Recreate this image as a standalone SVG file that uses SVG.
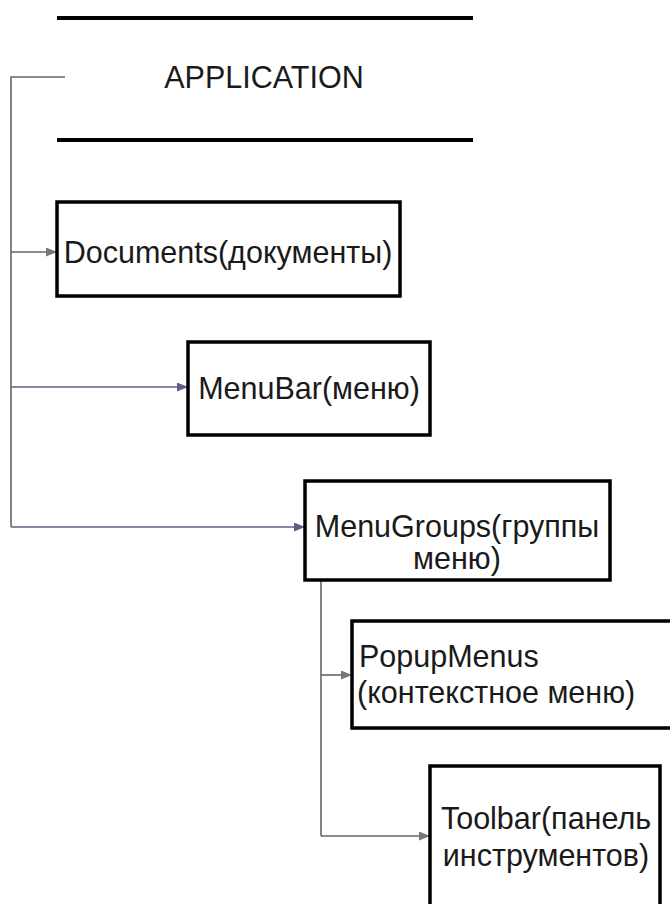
<svg xmlns="http://www.w3.org/2000/svg" width="670" height="904" viewBox="0 0 670 904">
<defs>
<style>
.box{fill:#fff;stroke:#000;stroke-width:3.5}
.t{font-family:"Liberation Sans",Arial,sans-serif;font-size:30.5px;fill:#1a1a1a}
.c{fill:none;stroke:#666;stroke-width:1.6}
.cb{fill:none;stroke:#5c6088;stroke-width:1.6}
</style>
<marker id="ah" markerWidth="11" markerHeight="9" refX="10" refY="4.5" orient="auto" markerUnits="userSpaceOnUse">
<path d="M0,0 L11,4.5 L0,9 Z" fill="#777"/>
</marker>
<marker id="ahb" markerWidth="11" markerHeight="9" refX="10" refY="4.5" orient="auto" markerUnits="userSpaceOnUse">
<path d="M0,0 L11,4.5 L0,9 Z" fill="#5c6088"/>
</marker>
</defs>
<rect width="670" height="904" fill="#fff"/>
<g id="application">
<line x1="57" y1="18" x2="473" y2="18" stroke="#000" stroke-width="4"/>
<line x1="57" y1="140" x2="473" y2="140" stroke="#000" stroke-width="4"/>
<text class="t" x="264" y="88" text-anchor="middle">APPLICATION</text>
</g>
<g id="connectors">
<path class="c" d="M65,77 H11 V527"/>
<path class="c" d="M11,252 H56" marker-end="url(#ah)"/>
<path class="cb" d="M11,387 H187" marker-end="url(#ahb)"/>
<path class="cb" d="M11,527 H304" marker-end="url(#ahb)"/>
<path class="c" d="M321,580 V836"/>
<path class="c" d="M321,675 H351" marker-end="url(#ah)"/>
<path class="c" d="M321,836 H429" marker-end="url(#ah)"/>
</g>
<g id="documents">
<rect class="box" x="57" y="202" width="343" height="94"/>
<text class="t" x="228" y="263" text-anchor="middle">Documents(документы)</text>
</g>
<g id="menubar">
<rect class="box" x="188" y="342" width="242" height="93"/>
<text class="t" x="309" y="399" text-anchor="middle">MenuBar(меню)</text>
</g>
<g id="menugroups">
<rect class="box" x="305" y="481" width="305" height="99"/>
<text class="t" x="457" y="537" text-anchor="middle">MenuGroups(группы</text>
<text class="t" x="457" y="569" text-anchor="middle">меню)</text>
</g>
<g id="popupmenus">
<rect class="box" x="352" y="621" width="330" height="107"/>
<text class="t" x="359" y="667">PopupMenus</text>
<text class="t" x="357" y="703">(контекстное меню)</text>
</g>
<g id="toolbar">
<rect class="box" x="430" y="766" width="230" height="150"/>
<text class="t" x="546" y="829" text-anchor="middle">Toolbar(панель</text>
<text class="t" x="546" y="866" text-anchor="middle">инструментов)</text>
</g>
</svg>
